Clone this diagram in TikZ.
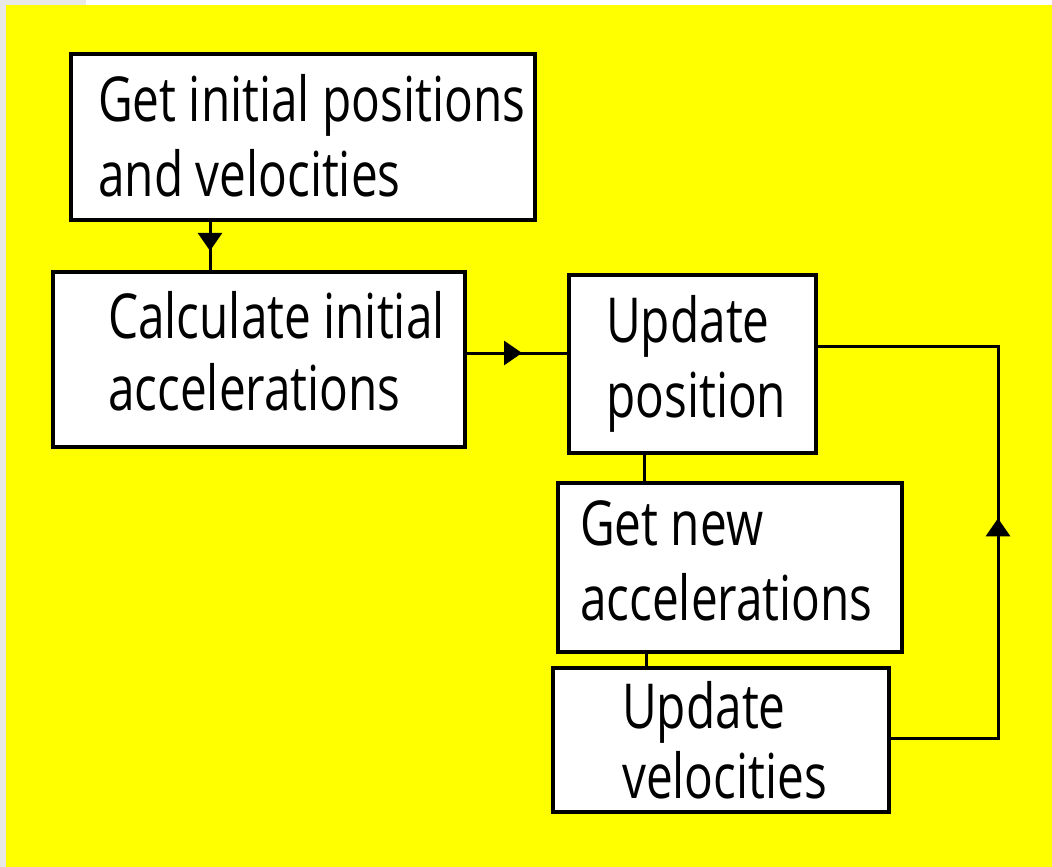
\documentclass[tikz,border=0pt]{standalone}
\usepackage{fontspec}
\setmainfont{Open Sans}[FakeStretch=0.77]
\usetikzlibrary{arrows.meta,decorations.markings}
\definecolor{bgyellow}{RGB}{255,255,0}
\definecolor{bggray}{RGB}{232,232,232}
\tikzset{
  box/.style={draw=black, fill=white, line width=3.4pt, rectangle, inner sep=0pt},
  txt/.style={anchor=base west, inner sep=0pt, font=\fontsize{62}{75}\selectfont},
  conn/.style={draw=black, line width=3pt},
  midarrow/.style={postaction=decorate, decoration={markings,
    mark=at position #1 with {\arrow{Triangle[length=18pt,width=24pt]}}}}
}
\begin{document}
\begin{tikzpicture}[x=1pt,y=-1pt]
\useasboundingbox (0,0) rectangle (1052,867);
\fill[white] (0,0) rectangle (1052,867);
\fill[bggray] (0,0) rectangle (6,867);
\fill[bggray] (0,0) rectangle (86,5);
\fill[bgyellow] (6,5) rectangle (1052,867);

\node[box, minimum width=464pt, minimum height=166pt] (b1) at (303,137) {};
\node[box, minimum width=412pt, minimum height=175pt] (b2) at (259,359.5) {};
\node[box, minimum width=247pt, minimum height=178pt] (b3) at (692.5,364) {};
\node[box, minimum width=344pt, minimum height=169pt] (b4) at (730,567.5) {};
\node[box, minimum width=336pt, minimum height=144pt] (b5) at (721,740) {};

\node[txt] (t1a) at (98,121) {Get initial positions};
\node[txt] (t1b) at (98,196) {and velocities};
\node[txt] (t2a) at (108,338) {Calculate initial};
\node[txt] (t2b) at (108,410) {accelerations};
\node[txt] (t3a) at (606,342) {Update};
\node[txt] (t3b) at (606,417) {position};
\node[txt] (t4a) at (580,545) {Get new};
\node[txt] (t4b) at (580,620) {accelerations};
\node[txt] (t5a) at (622,728) {Update};
\node[txt] (t5b) at (622,798) {velocities};

\coordinate (x12) at (210,0);
\coordinate (y23) at (0,353);
\coordinate (x34) at (644,0);
\coordinate (x45) at (646,0);
\coordinate (xloop) at (998,0);
\coordinate (y5) at (0,738);
\coordinate (y3) at (0,346);

\draw[conn, midarrow=0.6] (x12 |- b1.south) -- (x12 |- b2.north);
\draw[conn, midarrow=0.55] (b2.east |- y23) -- (b3.west |- y23);
\draw[conn] (x34 |- b3.south) -- (x34 |- b4.north);
\draw[conn] (x45 |- b4.south) -- (x45 |- b5.north);
\draw[conn, line join=miter, midarrow=327pt] (b5.east |- y5) -- (xloop |- y5) -- (xloop |- y3) -- (b3.east |- y3);
\end{tikzpicture}
\end{document}
